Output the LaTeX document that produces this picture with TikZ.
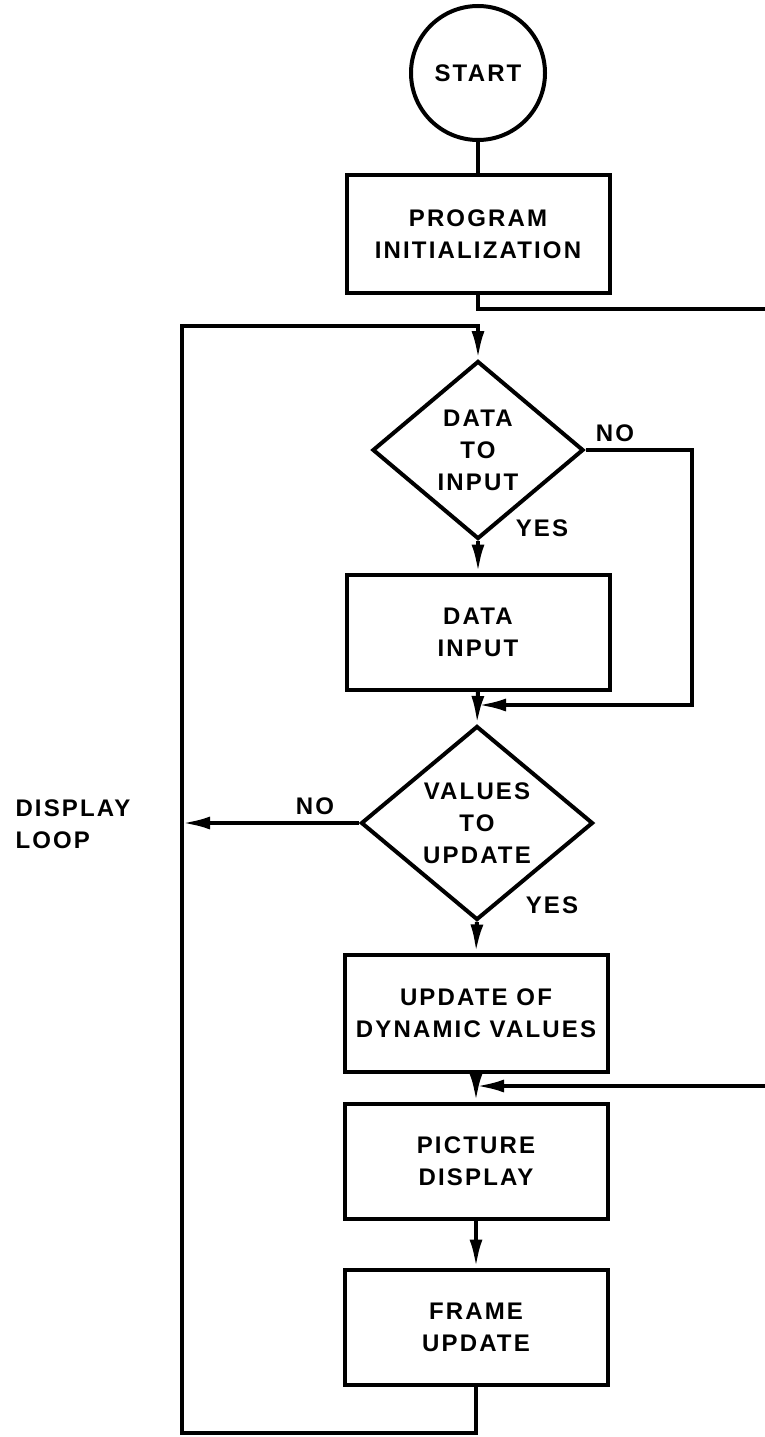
\documentclass[tikz,border=0pt]{standalone}
\usepackage{fontspec}
\setmainfont[LetterSpace=9]{Liberation Sans}
\usetikzlibrary{arrows.meta,positioning,shapes.geometric}
\newcommand{\chartfont}{\fontsize{24}{32}\selectfont\bfseries}

\tikzset{
  flow/.style={line width=4pt},
  arr/.style={flow, -{Latex[length=28pt,width=13pt]}},
  box/.style={draw, line width=4pt, minimum width=263pt, minimum height=117pt, align=center, font=\chartfont},
  decision/.style={draw, diamond, line width=4pt, inner sep=0pt, aspect=1.2, align=center, font=\chartfont},
  tag/.style={font=\chartfont}
}

\begin{document}
\begin{tikzpicture}[x=1pt, y=-1pt]
  \useasboundingbox (0,0) rectangle (765,1437);

  \node[draw, circle, line width=4pt, minimum size=134pt, font=\chartfont] (start) at (478,73) {START};
  \node[box, minimum height=118pt] (init) at (478,234) {PROGRAM\\INITIALIZATION};
  \node[decision, minimum width=211pt, minimum height=178pt] (datain) at (478,450) {DATA\\TO\\INPUT};
  \node[box, minimum height=115pt] (input) at (478,632) {DATA\\INPUT};
  \node[decision, minimum width=232pt, minimum height=194pt] (values) at (477,823) {VALUES\\TO\\UPDATE};
  \node[box] (update) at (476,1013) {UPDATE OF\\DYNAMIC VALUES};
  \node[box, minimum height=115pt] (picture) at (476,1161) {PICTURE\\DISPLAY};
  \node[box, minimum height=115pt] (frame) at (476,1327) {FRAME\\UPDATE};

  % loop corners and off-page ends
  \coordinate (exitA) at (765,309);
  \coordinate (entryB) at (765,1086);
  \coordinate (loopbot) at (182,1433);
  \coordinate (looptop) at (182,326);
  \coordinate (noturn) at (692,450);
  \coordinate (nojoin) at (478,705);
  \coordinate (loopjoin) at (182,823);
  \coordinate (dispjoin) at (476,1086);

  \draw[flow] (start) -- (init);
  \draw[flow] (init.south) |- (exitA);
  \draw[arr] (frame.south) |- (loopbot) -- (looptop) -| (datain.north);
  \draw[arr] (datain.south) -- (input.north);
  \draw[arr] (datain.east) -- (noturn) |- (nojoin);
  \draw[arr] (input.south) -- (values.north);
  \draw[arr] (values.west) -- (loopjoin);
  \draw[arr] (values.south) -- (update.north);
  \draw[arr] (entryB) -- (dispjoin);
  \draw[arr] (update.south) -- (picture.north);
  \draw[arr] (picture.south) -- (frame.north);

  \node[tag] (yesA) at (542,528) {YES};
  \node[tag] (noA) at (615,433) {NO};
  \node[tag] (noB) at (315,806) {NO};
  \node[tag] (yesB) at (552,905) {YES};
  \node[tag, align=left, anchor=west] (looplabel) at (12,824) {DISPLAY\\LOOP};
\end{tikzpicture}
\end{document}
